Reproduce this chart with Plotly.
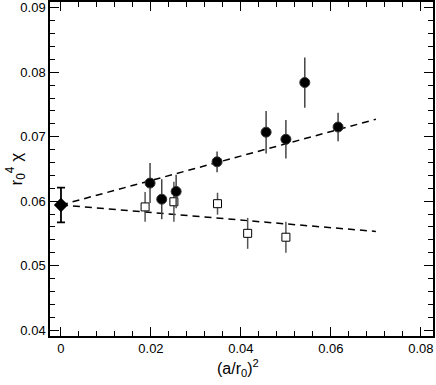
import plotly.graph_objects as go

# filled circles
circ_x = [0.0198, 0.0224, 0.0256, 0.0347, 0.0456, 0.0500, 0.0542, 0.0616]
circ_y = [0.0628, 0.0603, 0.0615, 0.0661, 0.0707, 0.0696, 0.0784, 0.0715]
circ_e = [0.0031, 0.0031, 0.0026, 0.0016, 0.0033, 0.0030, 0.0039, 0.0022]

# open squares
sq_x = [0.0187, 0.0251, 0.0348, 0.0415, 0.0500]
sq_y = [0.0591, 0.0599, 0.0596, 0.0550, 0.0544]
sq_e = [0.0023, 0.0031, 0.0017, 0.0024, 0.0024]

# continuum value
cont_x = [0.0]
cont_y = [0.0594]
cont_e = [0.0027]

# linear fits
fit_x = [0.0, 0.07]
fit_up = [0.0594, 0.0727]
fit_dn = [0.0594, 0.0553]

FONT = "Liberation Sans, Arial, sans-serif"

fig = go.Figure()
for fy in (fit_up, fit_dn):
    fig.add_trace(go.Scatter(x=fit_x, y=fy, mode="lines",
                             line=dict(color="black", width=1.5, dash="7px,5px"),
                             showlegend=False, hoverinfo="skip"))

fig.add_trace(go.Scatter(x=sq_x, y=sq_y, mode="markers",
                         error_y=dict(type="data", array=sq_e, color="#555",
                                      thickness=1.5, width=0),
                         marker=dict(symbol="square", size=8, color="white",
                                     line=dict(color="black", width=1)),
                         showlegend=False))
fig.add_trace(go.Scatter(x=circ_x, y=circ_y, mode="markers",
                         error_y=dict(type="data", array=circ_e, color="#444",
                                      thickness=1.5, width=0),
                         marker=dict(symbol="circle", size=10, color="black",
                                     line=dict(color="#333", width=1)),
                         showlegend=False))
fig.add_trace(go.Scatter(x=cont_x, y=cont_y, mode="markers",
                         error_y=dict(type="data", array=cont_e, color="black",
                                      thickness=1.8, width=4),
                         marker=dict(symbol="diamond", size=11, color="black"),
                         showlegend=False))

axis_common = dict(showgrid=False, zeroline=False, showline=True, linecolor="black",
                   linewidth=1.5, mirror="allticks", ticks="inside", ticklen=9,
                   tickwidth=1, tickcolor="black", automargin=False,
                   tickfont=dict(family=FONT, size=13, color="black"))

fig.update_xaxes(range=[-0.00244, 0.0827], tickvals=[0, 0.02, 0.04, 0.06, 0.08],
                 ticktext=["0", "0.02", "0.04", "0.06", "0.08"],
                 minor=dict(dtick=0.004, tick0=0, ticks="inside", ticklen=5,
                            tickcolor="black", tickwidth=1),
                 **axis_common)
fig.update_yaxes(range=[0.03907, 0.0909], tickvals=[0.04, 0.05, 0.06, 0.07, 0.08, 0.09],
                 ticktext=["0.04", "0.05", "0.06", "0.07", "0.08", "0.09"],
                 minor=dict(dtick=0.002, tick0=0.04, ticks="inside", ticklen=5,
                            tickcolor="black", tickwidth=1),
                 **axis_common)

fig.add_annotation(text="(a/r<sub>0</sub>)<sup>2</sup>", xref="paper", yref="paper",
                   x=0.49, y=-0.058, xanchor="center", yanchor="top", showarrow=False,
                   font=dict(family=FONT, size=16, color="black"))
fig.add_annotation(text="r<sub>0</sub><sup>4</sup> χ", xref="paper", yref="paper",
                   x=-0.128, y=0.5, xanchor="left", yanchor="middle", showarrow=False,
                   textangle=-90, font=dict(family=FONT, size=17, color="black"))

fig.update_layout(width=436, height=385, margin=dict(l=50, r=3, t=2, b=49),
                  plot_bgcolor="white", paper_bgcolor="white",
                  font=dict(family=FONT, color="black"))

fig.write_html("out.html", config={"displayModeBar": False},
               post_script="document.body.style.margin='0';document.body.style.overflow='hidden';")
